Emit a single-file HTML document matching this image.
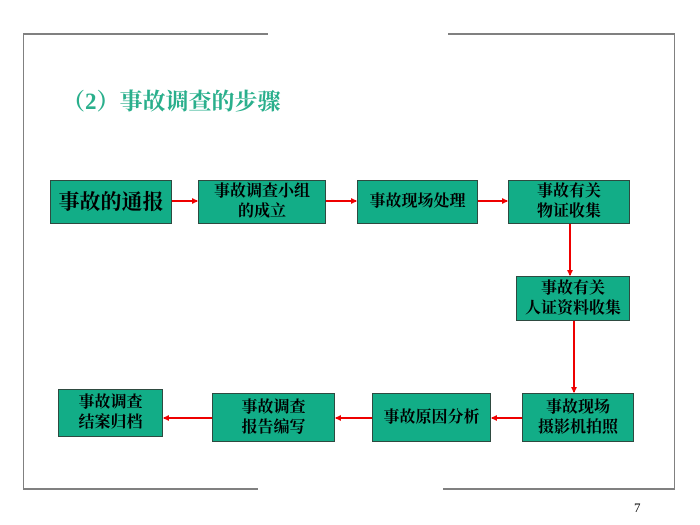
<!DOCTYPE html>
<html><head><meta charset="utf-8"><style>
body{margin:0;width:700px;height:525px;background:#fff;position:relative;overflow:hidden;font-family:"Liberation Serif","Noto Serif CJK SC","Noto Sans CJK SC",serif}
.l{position:absolute;background:#808080}
.b{position:absolute;background:#12ad87;border:1.5px solid #2e4a40;box-sizing:border-box;display:flex;align-items:center;justify-content:center;text-align:center;font-size:16px;line-height:20px;color:#000;font-weight:bold}
</style></head><body>
<div class="l" style="left:23px;top:33px;width:245px;height:2px"></div>
<div class="l" style="left:448px;top:33px;width:227px;height:2px"></div>
<div class="l" style="left:23px;top:33px;width:1px;height:457px"></div>
<div class="l" style="left:674px;top:33px;width:1px;height:457px"></div>
<div class="l" style="left:23px;top:488px;width:235px;height:2px"></div>
<div class="l" style="left:443px;top:488px;width:232px;height:2px"></div>
<div style="position:absolute;left:62px;top:83px;font-size:23px;color:#2aaf8c;font-weight:bold">（2）事故调查的步骤</div>
<div style="position:absolute;left:634px;top:500px;font-size:13px">7</div>
<div class="b" style="left:50px;top:180px;width:122px;height:44px;font-size:21px">事故的通报</div>
<div class="b" style="left:198px;top:180px;width:128px;height:44px">事故调查小组<br>的成立</div>
<div class="b" style="left:357px;top:180px;width:121px;height:44px">事故现场处理</div>
<div class="b" style="left:508px;top:180px;width:122px;height:44px">事故有关<br>物证收集</div>
<div class="b" style="left:516px;top:276px;width:114px;height:45px">事故有关<br>人证资料收集</div>
<div class="b" style="left:522px;top:393px;width:112px;height:49px">事故现场<br>摄影机拍照</div>
<div class="b" style="left:372px;top:393px;width:119px;height:49px">事故原因分析</div>
<div class="b" style="left:212px;top:393px;width:123px;height:49px">事故调查<br>报告编写</div>
<div class="b" style="left:58px;top:389px;width:105px;height:48px">事故调查<br>结案归档</div>
<svg width="700" height="525" style="position:absolute;left:0;top:0">
<defs><marker id="a" markerWidth="6" markerHeight="6" refX="5" refY="3" orient="auto" markerUnits="userSpaceOnUse"><path d="M0,0L6,3L0,6z" fill="#e00"/></marker></defs>
<g stroke="#e00" stroke-width="2" marker-end="url(#a)">
<line x1="172" y1="201" x2="197" y2="201"/>
<line x1="326" y1="201" x2="356" y2="201"/>
<line x1="478" y1="201" x2="507" y2="201"/>
<line x1="570" y1="224" x2="570" y2="275"/>
<line x1="574" y1="321" x2="574" y2="392"/>
<line x1="522" y1="418" x2="492" y2="418"/>
<line x1="372" y1="418" x2="336" y2="418"/>
<line x1="212" y1="418" x2="164" y2="418"/>
</g></svg>
</body></html>
